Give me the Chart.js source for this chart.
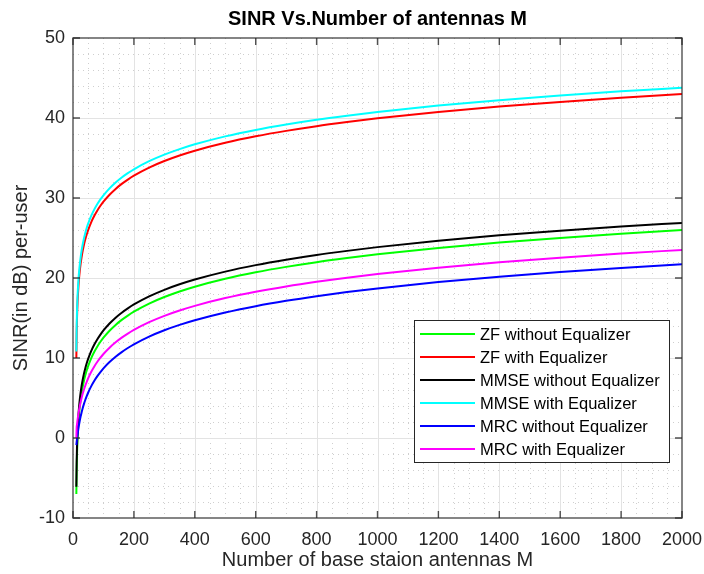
<!DOCTYPE html>
<html>
<head>
<meta charset="utf-8">
<title>SINR Vs.Number of antennas M</title>
<script src="https://cdn.jsdelivr.net/npm/chart.js@4.4.1/dist/chart.umd.min.js"></script>
<style>
  html, body { margin: 0; padding: 0; background: #fff; }
  #wrap { width: 704px; height: 574px; }
</style>
</head>
<body>
<div id="wrap"><canvas id="sinr-chart"></canvas></div>
<script>
// Number of base station antennas M
const antennas = [11, 12, 13, 14, 15, 16, 18, 20, 22, 25, 28, 32, 36, 40, 45, 50, 60, 70, 80, 90, 100,
    120, 140, 160, 180, 200, 250, 300, 350, 400, 500, 600, 700, 800, 900, 1000, 1200, 1400, 1600, 1800, 2000];

// SINR per user in dB, one array per detector
const zfWithout = [-7.00, -3.99, -2.23, -0.98, -0.01, 0.78, 2.03, 3.00, 3.79, 4.76, 5.55, 6.42, 7.15, 7.77,
    8.44, 9.02, 9.99, 10.78, 11.45, 12.03, 12.54, 13.41, 14.14, 14.76, 15.30, 15.79, 16.80, 17.62, 18.31,
    18.91, 19.90, 20.71, 21.39, 21.98, 22.49, 22.96, 23.76, 24.43, 25.01, 25.53, 25.99];
const zfWith = [10.00, 13.01, 14.77, 16.02, 16.99, 17.78, 19.03, 20.00, 20.79, 21.76, 22.55, 23.42, 24.15,
    24.77, 25.44, 26.02, 26.99, 27.78, 28.45, 29.03, 29.54, 30.41, 31.14, 31.76, 32.30, 32.79, 33.80, 34.62,
    35.31, 35.91, 36.90, 37.71, 38.39, 38.98, 39.49, 39.96, 40.76, 41.43, 42.01, 42.53, 42.99];
const mmseWithout = [-6.10, -3.09, -1.33, -0.08, 0.89, 1.68, 2.93, 3.90, 4.69, 5.66, 6.45, 7.32, 8.05, 8.67,
    9.34, 9.92, 10.89, 11.68, 12.35, 12.93, 13.44, 14.31, 15.04, 15.66, 16.20, 16.69, 17.70, 18.52, 19.21,
    19.81, 20.80, 21.61, 22.29, 22.88, 23.39, 23.86, 24.66, 25.33, 25.91, 26.43, 26.89];
const mmseWith = [10.80, 13.81, 15.57, 16.82, 17.79, 18.58, 19.83, 20.80, 21.59, 22.56, 23.35, 24.22, 24.95,
    25.57, 26.24, 26.82, 27.79, 28.58, 29.25, 29.83, 30.34, 31.21, 31.94, 32.56, 33.10, 33.59, 34.60, 35.42,
    36.11, 36.71, 37.70, 38.51, 39.19, 39.78, 40.29, 40.76, 41.56, 42.23, 42.81, 43.33, 43.79];
const mrcWithout = [-0.89, -0.51, -0.16, 0.16, 0.46, 0.74, 1.25, 1.71, 2.12, 2.68, 3.17, 3.75, 4.26, 4.72,
    5.23, 5.69, 6.48, 7.15, 7.73, 8.24, 8.70, 9.49, 10.16, 10.74, 11.25, 11.71, 12.68, 13.47, 14.14, 14.72,
    15.69, 16.48, 17.15, 17.73, 18.24, 18.70, 19.49, 20.16, 20.74, 21.25, 21.71];
const mrcWith = [0.00, 1.29, 1.64, 1.96, 2.26, 2.54, 3.05, 3.51, 3.92, 4.48, 4.97, 5.55, 6.06, 6.52,
    7.03, 7.49, 8.28, 8.95, 9.53, 10.04, 10.50, 11.29, 11.96, 12.54, 13.05, 13.51, 14.48, 15.27, 15.94,
    16.52, 17.49, 18.28, 18.95, 19.53, 20.04, 20.50, 21.29, 21.96, 22.54, 23.05, 23.51];

const seriesLabels = ['ZF without Equalizer', 'ZF with Equalizer', 'MMSE without Equalizer',
    'MMSE with Equalizer', 'MRC without Equalizer', 'MRC with Equalizer'];
const seriesValues = [zfWithout, zfWith, mmseWithout, mmseWith, mrcWithout, mrcWith];
const seriesColors = ['#00ff00', '#ff0000', '#000000', '#00ffff', '#0000ff', '#ff00ff'];

// axis ranges and tick spacing
const xRange = [0, 2000], xMajor = 200, xMinor = 50;
const yRange = [-10, 50], yMajor = 10, yMinor = 2;

const FONT = '"Liberation Sans", Arial, Helvetica, sans-serif';
const AXIS_COLOR = '#262626';

const datasets = seriesValues.map((vals, i) => ({
    label: seriesLabels[i],
    data: antennas.map((m, j) => ({ x: m, y: vals[j] })),
    borderColor: seriesColors[i],
    backgroundColor: seriesColors[i],
    borderWidth: 2,
    pointRadius: 0,
    showLine: true,
    cubicInterpolationMode: 'monotone',
    order: seriesValues.length - i // later series on top
}));

// grid (solid major, dotted minor) under the lines, box + legend on top
const gridPlugin = {
    id: 'matGrid',
    beforeDatasetsDraw(chart) {
        const { ctx, chartArea: a, scales: { x, y } } = chart;
        ctx.save();
        ctx.lineWidth = 1;
        ctx.strokeStyle = '#cfcfcf';
        ctx.setLineDash([1, 4]);
        for (let v = xRange[0]; v <= xRange[1]; v += xMinor) {
            if (v % xMajor === 0) continue;
            const px = Math.round(x.getPixelForValue(v)) + 0.5;
            ctx.beginPath(); ctx.moveTo(px, a.top); ctx.lineTo(px, a.bottom); ctx.stroke();
        }
        for (let v = yRange[0]; v <= yRange[1]; v += yMinor) {
            if (v % yMajor === 0) continue;
            const py = Math.round(y.getPixelForValue(v)) + 0.5;
            ctx.beginPath(); ctx.moveTo(a.left, py); ctx.lineTo(a.right, py); ctx.stroke();
        }
        ctx.setLineDash([]);
        ctx.strokeStyle = '#e3e3e3';
        for (let v = xRange[0] + xMajor; v < xRange[1]; v += xMajor) {
            const px = Math.round(x.getPixelForValue(v)) + 0.5;
            ctx.beginPath(); ctx.moveTo(px, a.top); ctx.lineTo(px, a.bottom); ctx.stroke();
        }
        for (let v = yRange[0] + yMajor; v < yRange[1]; v += yMajor) {
            const py = Math.round(y.getPixelForValue(v)) + 0.5;
            ctx.beginPath(); ctx.moveTo(a.left, py); ctx.lineTo(a.right, py); ctx.stroke();
        }
        ctx.restore();
    },
    afterDatasetsDraw(chart) {
        const { ctx, chartArea: a, scales: { x, y } } = chart;
        ctx.save();
        // box with inward ticks on all four sides
        ctx.strokeStyle = 'rgba(38,38,38,0.8)';
        ctx.lineWidth = 1.4;
        ctx.strokeRect(a.left, a.top, a.right - a.left, a.bottom - a.top);
        const tick = 7;
        ctx.beginPath();
        for (let v = xRange[0]; v <= xRange[1]; v += xMajor) {
            const px = x.getPixelForValue(v);
            ctx.moveTo(px, a.bottom); ctx.lineTo(px, a.bottom - tick);
            ctx.moveTo(px, a.top); ctx.lineTo(px, a.top + tick);
        }
        for (let v = yRange[0]; v <= yRange[1]; v += yMajor) {
            const py = y.getPixelForValue(v);
            ctx.moveTo(a.left, py); ctx.lineTo(a.left + tick, py);
            ctx.moveTo(a.right, py); ctx.lineTo(a.right - tick, py);
        }
        ctx.stroke();

        // legend box inside the plot, lower right
        const box = { left: 414, top: 320, width: 255, height: 142 };
        ctx.fillStyle = '#fff';
        ctx.fillRect(box.left, box.top, box.width, box.height);
        ctx.strokeStyle = AXIS_COLOR;
        ctx.lineWidth = 1;
        ctx.strokeRect(box.left + 0.5, box.top + 0.5, box.width, box.height);
        ctx.font = '16.5px ' + FONT;
        ctx.textBaseline = 'middle';
        ctx.textAlign = 'left';
        chart.data.datasets.forEach((ds, i) => {
            const rowY = box.top + 14 + i * 23;
            ctx.strokeStyle = ds.borderColor;
            ctx.lineWidth = 2;
            ctx.beginPath(); ctx.moveTo(box.left + 6, rowY); ctx.lineTo(box.left + 61, rowY); ctx.stroke();
            ctx.fillStyle = '#000';
            ctx.fillText(ds.label, box.left + 66, rowY + 1);
        });
        ctx.restore();
    }
};

new Chart(document.getElementById('sinr-chart'), {
    type: 'scatter',
    data: { datasets: datasets },
    options: {
        responsive: true,
        maintainAspectRatio: false,
        animation: false,
        layout: { padding: { left: 0, right: 22, top: 0, bottom: 0 } },
        plugins: {
            legend: { display: false },
            tooltip: { enabled: false },
            title: {
                display: true,
                text: 'SINR Vs.Number of antennas M',
                fullSize: false,
                color: '#000',
                font: { family: FONT, size: 20, weight: 'bold', lineHeight: 1.2 },
                padding: { top: 7, bottom: 7 }
            }
        },
        scales: {
            x: {
                type: 'linear',
                min: xRange[0],
                max: xRange[1],
                grid: { display: false, drawTicks: false },
                border: { display: false },
                ticks: { stepSize: xMajor, color: AXIS_COLOR, padding: 11, maxRotation: 0,
                    font: { family: FONT, size: 18 },
                    callback: v => String(v) },
                title: {
                    display: true,
                    text: 'Number of base staion antennas M',
                    color: AXIS_COLOR,
                    font: { family: FONT, size: 20 },
                    padding: { top: 0, bottom: 2 }
                },
                afterFit: scale => {
                    scale.height = 56;
                    scale.paddingLeft = 0;
                    scale.paddingRight = 0;
                }
            },
            y: {
                type: 'linear',
                min: yRange[0],
                max: yRange[1],
                grid: { display: false, drawTicks: false },
                border: { display: false },
                ticks: { stepSize: yMajor, color: AXIS_COLOR, padding: 8,
                    font: { family: FONT, size: 18 } },
                title: {
                    display: true,
                    text: 'SINR(in dB) per-user',
                    color: AXIS_COLOR,
                    font: { family: FONT, size: 20 },
                    padding: { top: 9, bottom: 0 }
                },
                afterFit: scale => {
                    scale.width = 73;
                    scale.paddingTop = 0;
                    scale.paddingBottom = 0;
                }
            }
        }
    },
    plugins: [gridPlugin]
});
</script>
</body>
</html>
